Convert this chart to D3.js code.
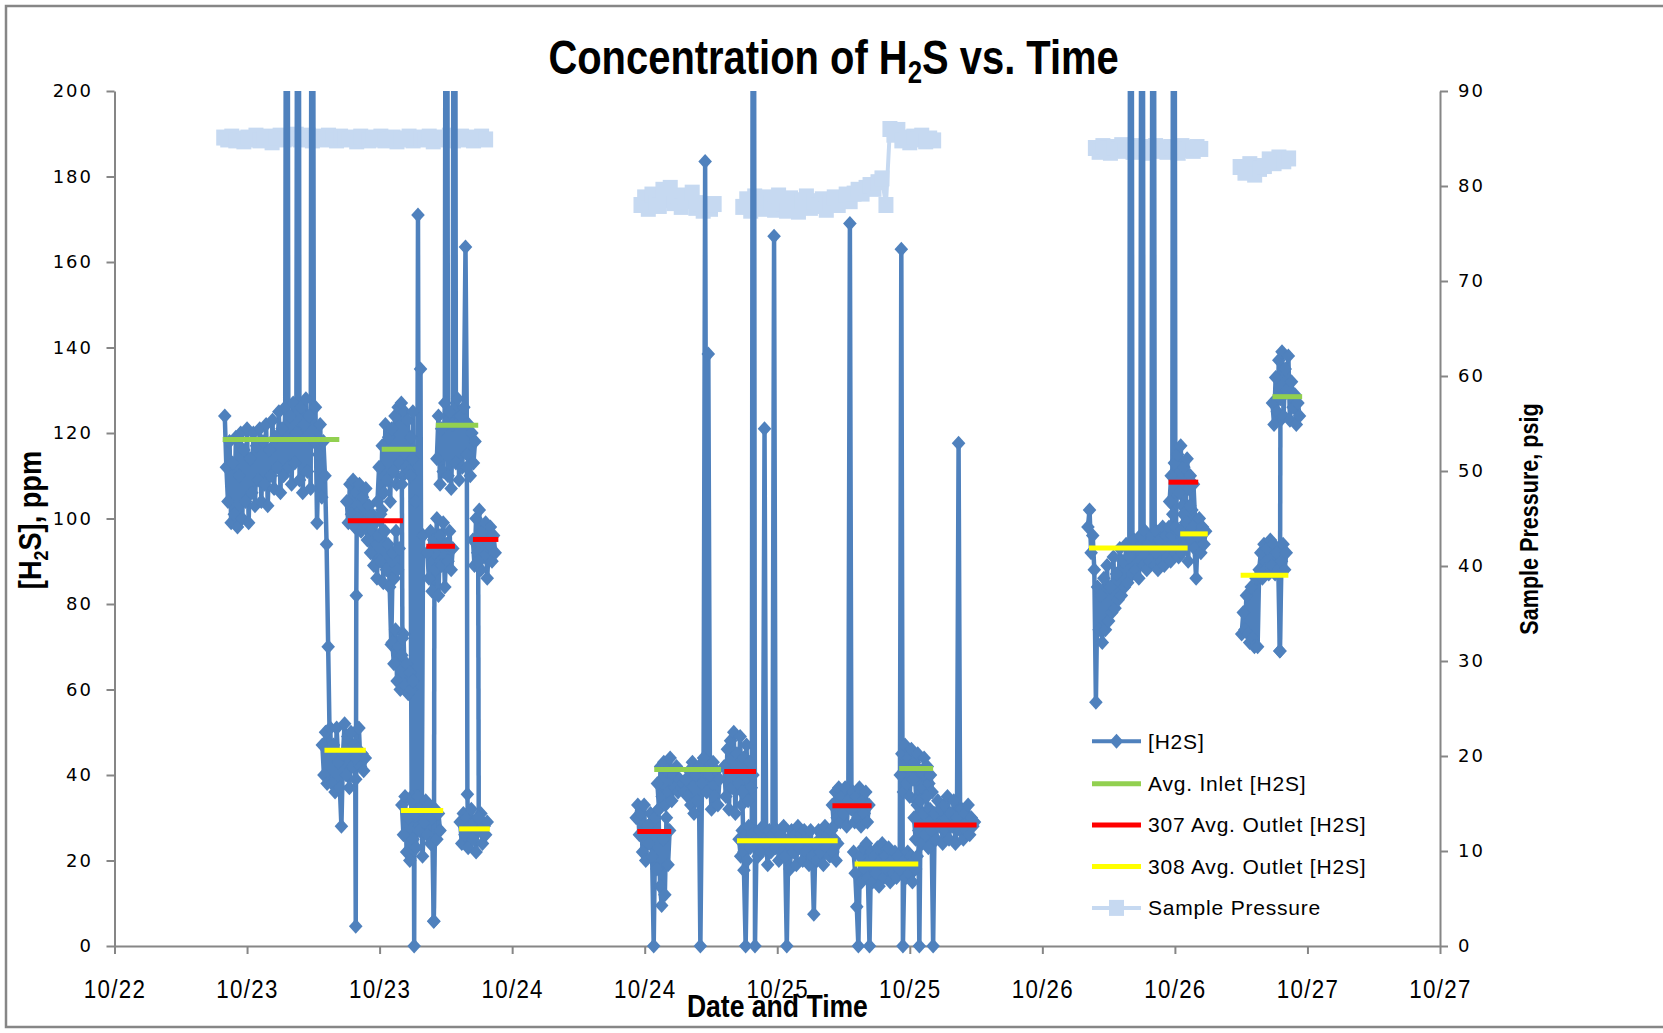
<!DOCTYPE html>
<html>
<head>
<meta charset="utf-8">
<script src="https://cdn.jsdelivr.net/npm/d3@7"></script>
<style>
  body { margin: 0; background: #fff; }
  svg { display: block; }
</style>
</head>
<body>
<div id="chart"></div>
<script>
// times are days after 10/22 00:00, [H2S] in ppm, pressure in psig

// x axis: one tick every 12 hours
const xTickValues = [0.5, 1, 1.5, 2, 2.5, 3, 3.5, 4, 4.5, 5, 5.5];
const xTickLabels = ["10/22", "10/23", "10/23", "10/24", "10/24", "10/25", "10/25", "10/26", "10/26", "10/27", "10/27"];
const h2sTicks = [0, 20, 40, 60, 80, 100, 120, 140, 160, 180, 200];
const pressureTicks = [0, 10, 20, 30, 40, 50, 60, 70, 80, 90];

// [H2S] readings, each run = [first time, sampling step, readings]
const h2sOct23Runs = [
  [0.916, 0.006, [124,112,104,118,99,113,101,119,98,110,120,100,116,104,121,99,114,106,120,103,117,109,121,104,118,108,122,103,116,110,123,107,119,112,125,106,121,110,126,400,112,124,108,127,113,120,400,109,126,106,122,128,111,124,107,400,118,126,99,115,122,105,118,110,94,70,47]],
  [1.284, 0.006, [47,40,50,38,46,51,38,47,36,51,43,37,28,45,52,40,49,37,50,42,47,39,46,51,42,45,41,44]],
  [1.408, 0.002, [44,4.6,82,101]],
  [1.376, 0.006, [104,99,108,101,109,98,106,100,108,97,105,99,107,95,103,92,101,89,99,86,96,90,102,85,97,88,94,84,70.5,92,86,97,88,93]],
  [1.548, 0.006, [71,66,74,62,70,60,68,73,61,66,59,64,60,62]],
  [1.492, 0.006, [104,112,101,117,106,122,109,119,104,121,111,124,108,126,113,127,110,125,112,123,111,119,114]],
  [1.584, 0.002, [108,72]],
  [1.616, 0.0048, [110,35,125,0,104,30,171,28,135,31,96]],
  [1.584, 0.006, [33,26,35,22,30,20,34,25,31,23,35,27,32,21,29,34,26,33,24,30,5.8,32,25,31,27]],
  [1.7048, 0.002, [5.8,92]],
  [1.680, 0.006, [92,86,97,83,95,88,100,82,96,89,99,84,94,90,97,88,93]],
  [1.716, 0.006, [114,124,108,121,111,127,400,110,125,107,122,400,113,128,109,124,112,126,163.5,115,122,110,120,113,118]],
  [1.8292, 0.002, [112,35.5,29]],
  [1.804, 0.006, [29,24,31,26,30,23,28,32,25,29,22,30,27,31,24,28,26,29]],
  [1.852, 0.006, [95,89,100,92,102,88,97,91,99,86,94,98,90,96,92]],
  [1.872, 0.002, [90,30]]
];

const h2sOct24Runs = [
  [2.468, 0.006, [30,33,26,31,22,33,20,28,24,31,21,0,30,18,32,14,9.5,25,12,30,19,27]],
  [2.548, 0.006, [38,32,42,35,43,33,41,36,44,34,40,37,42,36,39,37,38,36,39,35,41,33,43,31,40,34,42,0,38,44,183.5,36,138.5,40,32,43,35,41,33,39]],
  [2.800, 0.006, [42,35,46,32,48,37,50,31,45,38,49,33,44,36,47,34,43,37,40]],
  [2.868, 0.0064, [36,17.7,0,25]],
  [2.856, 0.006, [25,21,27,22,26,20,28,23,26,400,0,25,21,27,22,28,121,24,19,27,22,26,166,23,27,20,26,22,28,21,0,25,18,27,22,26,19,28,23,26,20,27,22,25,19,27,21,7.4,24,20,27,22,26,19,28,23,26,21,27,22,25,20,24]],
  [3.208, 0.006, [33,28,36,30,37,29,35,31,37,28,34,169,32,36,29,35,30,37,28,34,31,36,29,33]],
  [3.288, 0.006, [22,17,9.2,0,21,15,23,18,24,16,0,22,15,21,17,23,14,20,24,16,21,18,23,15,20,17,22,16,21,18,163,0,20,16,22,17,21,15,20,18,21]],
  [3.464, 0.006, [40,45,36,47,38,44,35,46,39,43,34,45,0,41,37,44,35,42,38,40,36]],
  [3.516, 0.006, [30,25,33,27,34,24,31,26,35,23,32,27,0,31,25,34,28,32,24,33,27,35,25,31,28,34,24,30,117.6,27,32,25,31,27,33,26,30,28,29]]
];

const h2sOct26Runs = [
  [4.172, 0.006, [98,102,92,96,88,57,84,74,82,71,86,74,89,76,84,78,91,79,87,81,93,82,90,84,94,85,91,400,87,95,88,93,86,96,400,89,97,88,94,90,96,400,89,97,88,95,90,98,89,96,91,98,90,96,400,92,97,91]],
  [4.480, 0.006, [104,110,101,113,98,115,106,117,103,112,99,114,107,110,102,108,100]],
  [4.520, 0.006, [97,92,101,94,99,90,103,95,98,93,86,96,100,92,98,94,97]]
];

const h2sOct26LateRuns = [
  [4.752, 0.006, [73,78,74,82,73,71,84,72,70,86,70,88,92,86,94,88,93,87,95,89,94,87,92,88,69,90,94,88,92]],
  [4.896, 0.002, [69,123]],
  [4.868, 0.006, [127,122,133,125,137,128,139,124,135,130,138,123,132,126,129,122,127,124]]
];

// sample pressure, psig
const pressureRuns = [
  [0.912, 0.0152, [85.1,84.9,85.2,84.8,85.0,84.7,85.1,84.9,85.3,84.8,85.0,85.2,84.6,85.1,85.3,84.9,85.2,85.0,85.4,84.9,85.1,85.3,84.8,85.0,85.2,84.9,85.3,85.1,84.8,85.2,85.0,84.9,85.1,84.7,85.2,85.0,84.8,85.1,84.9,85.2,84.8,84.9,85.1,84.7,85.0,84.9,85.2,84.8,85.1,85.0,84.9,85.2,84.7,85.0,85.1,84.9,85.3,84.8,85.0,85.2,84.9,85.1,84.8,85.0,85.2,84.9]],
  [2.486, 0.0138, [78.0,78.8,77.6,79.1,78.3,77.9,79.6,78.5,79.8,78.2,79.0,77.8,78.9,78.4,79.3,77.7,78.2,77.4,78.0,77.6,78.1]],
  [2.870, 0.015, [77.8,78.6,77.4,78.9,78.1,77.6,78.8,78.3,77.5,79.0,78.2,77.4,78.7,78.0,77.3,78.5,78.9,77.7,78.4,77.9,78.6,77.5,78.3,78.8,78.0,78.7,79.1,78.4,79.2,79.6,79.2,79.8,80.1,79.7,80.4,80.8,78.0,86.0,85.4,85.9,84.8,85.1,84.6,85.2,84.9,85.3,84.7,85.0,84.8]],
  [4.200, 0.0142, [84.0,83.6,84.2,83.9,83.5,84.1,83.8,84.3,83.7,84.0,83.6,84.2,83.9,84.1,83.5,83.8,84.2,83.7,84.0,83.6,84.1,83.9,83.5,84.2,83.8,84.0,83.7,84.1,83.9]],
  [4.746, 0.0183, [82.0,81.4,82.3,81.2,81.8,82.1,82.8,82.4,83.0,82.6,82.9]]
];

// averages: [from, to, ppm]
const inletAvg = [[0.908,1.348,118.5],[1.508,1.636,116.2],[1.712,1.872,121.8],[2.536,2.788,41.3],[3.460,3.588,41.5],[4.868,4.980,128.5]];
const outlet307Avg = [[1.380,1.588,99.5],[1.676,1.784,93.5],[1.852,1.948,95.1],[2.472,2.600,26.8],[2.800,2.920,40.8],[3.208,3.356,32.8],[3.516,3.752,28.3],[4.476,4.588,108.5]];
const outlet308Avg = [[1.292,1.448,45.8],[1.580,1.740,31.7],[1.800,1.916,27.4],[2.848,3.228,24.6],[3.292,3.532,19.2],[4.176,4.548,93.1],[4.520,4.624,96.4],[4.748,4.928,86.7]];

const legendLabels = ["[H2S]", "Avg. Inlet [H2S]", "307 Avg. Outlet [H2S]", "308 Avg. Outlet [H2S]", "Sample Pressure"];

const h2sColor = "#4F81BD", pressureColor = "#C6D9F1";
const inletColor = "#92D050", c307 = "#FF0000", c308 = "#FFFF00";
const axisColor = "#868686";

const width = 1663, height = 1033;
const plot = {left: 114.5, right: 1440, top: 91, bottom: 946};
const sans = "'Liberation Sans', Arial, sans-serif";

const svg = d3.select("#chart").append("svg")
    .attr("width", width)
    .attr("height", height);

svg.append("rect").attr("width", width).attr("height", height).attr("fill", "#fff");
svg.append("rect")
    .attr("x", 6).attr("y", 6).attr("width", 1700).attr("height", 1021)
    .attr("fill", "none").attr("stroke", axisColor).attr("stroke-width", 2.5);

let x = d3.scaleLinear().domain([0.5, 5.5]).range([plot.left, plot.right]);
let yL = d3.scaleLinear().domain([0, 200]).range([plot.bottom, plot.top]);
let yR = d3.scaleLinear().domain([0, 90]).range([plot.bottom, plot.top]);

svg.append("clipPath").attr("id", "plotClip")
  .append("rect")
    .attr("x", plot.left - 12).attr("y", plot.top)
    .attr("width", plot.right - plot.left + 24).attr("height", plot.bottom - plot.top + 14);

// axes
function styleAxis(g) {
    g.select(".domain").attr("stroke", axisColor).attr("stroke-width", 2);
    g.selectAll(".tick line").attr("stroke", axisColor).attr("stroke-width", 2);
    g.selectAll(".tick text").attr("fill", "#000");
}

// condensed look: squeeze the glyphs horizontally
svg.append("g")
    .attr("transform", "translate(0," + plot.bottom + ")")
    .call(d3.axisBottom(x).tickValues(xTickValues).tickFormat((d, i) => xTickLabels[i]).tickSize(8).tickSizeOuter(0))
    .call(styleAxis)
    .call(g => g.selectAll(".tick text")
        .attr("y", 52).attr("dy", 0)
        .attr("transform", "scale(0.86,1)")
        .style("font-family", sans).style("font-size", "26px").style("letter-spacing", "1.5px"));

svg.append("g")
    .attr("transform", "translate(" + plot.left + ",0)")
    .call(d3.axisLeft(yL).tickValues(h2sTicks).tickSize(8).tickSizeOuter(0))
    .call(styleAxis)
    .call(g => g.selectAll(".tick text")
        .attr("x", -21.5)
        .style("font-family", "'DejaVu Sans', sans-serif").style("font-size", "18px").style("letter-spacing", "2px"));

svg.append("g")
    .attr("transform", "translate(" + plot.right + ",0)")
    .call(d3.axisRight(yR).tickValues(pressureTicks).tickSize(8).tickSizeOuter(0))
    .call(styleAxis)
    .call(g => g.selectAll(".tick text")
        .attr("x", 18)
        .style("font-family", "'DejaVu Sans', sans-serif").style("font-size", "18px").style("letter-spacing", "2px"));

// titles
const title = svg.append("text")
    .attr("transform", "translate(833.6,74) scale(0.832,1)").attr("text-anchor", "middle")
    .style("font-family", sans).style("font-weight", "bold").style("font-size", "48px");
title.append("tspan").text("Concentration of H");
title.append("tspan").attr("dy", 9).style("font-size", "31px").text("2");
title.append("tspan").attr("dy", -9).text("S vs. Time");

const yTitle = svg.append("text")
    .attr("transform", "translate(41,520) rotate(-90) scale(0.85,1)").attr("text-anchor", "middle")
    .style("font-family", sans).style("font-weight", "bold").style("font-size", "32px");
yTitle.append("tspan").text("[H");
yTitle.append("tspan").attr("dy", 7).style("font-size", "21px").text("2");
yTitle.append("tspan").attr("dy", -7).text("S], ppm");

svg.append("text")
    .attr("transform", "translate(1538,519) rotate(-90) scale(0.83,1)").attr("text-anchor", "middle")
    .style("font-family", sans).style("font-weight", "bold").style("font-size", "26px")
    .text("Sample Pressure, psig");

svg.append("text")
    .attr("transform", "translate(777.4,1017) scale(0.83,1)").attr("text-anchor", "middle")
    .style("font-family", sans).style("font-weight", "bold").style("font-size", "32px")
    .text("Date and Time");

// data
function expand(run) {
    const [t0, dt, vals] = run;
    return vals.map((v, i) => ({t: t0 + i * dt, v: v}));
}

const diamond = "M0,-7.5L6.8,0L0,7.5L-6.8,0Z";
const graph = svg.append("g").attr("clip-path", "url(#plotClip)");

// sample pressure (secondary axis)
const pLine = d3.line().x(d => x(d.t)).y(d => yR(d.v));
pressureRuns.map(expand).forEach(pts => {
    graph.append("path").datum(pts)
        .attr("d", pLine).attr("fill", "none")
        .attr("stroke", pressureColor).attr("stroke-width", 4).attr("stroke-linejoin", "round");
    graph.append("g").selectAll("rect").data(pts).join("rect")
        .attr("x", d => x(d.t) - 7.5).attr("y", d => yR(d.v) - 8)
        .attr("width", 15).attr("height", 16)
        .attr("fill", pressureColor);
});

// [H2S]
const hLine = d3.line().x(d => x(d.t)).y(d => yL(d.v));
const h2sPoints = [].concat(h2sOct23Runs, h2sOct24Runs, h2sOct26Runs, h2sOct26LateRuns).map(expand);
h2sPoints.forEach(pts => {
    graph.append("path").datum(pts)
        .attr("d", hLine).attr("fill", "none")
        .attr("stroke", h2sColor).attr("stroke-width", 4.5).attr("stroke-linejoin", "round");
});
h2sPoints.forEach(pts => {
    graph.append("g").selectAll("path").data(pts).join("path")
        .attr("d", diamond)
        .attr("transform", d => "translate(" + x(d.t) + "," + yL(d.v) + ")")
        .attr("fill", h2sColor);
});

// averages
[[inletAvg, inletColor], [outlet307Avg, c307], [outlet308Avg, c308]].forEach(([segs, col]) => {
    graph.append("g").selectAll("line").data(segs).join("line")
        .attr("x1", d => x(d[0])).attr("x2", d => x(d[1]))
        .attr("y1", d => yL(d[2])).attr("y2", d => yL(d[2]))
        .attr("stroke", col).attr("stroke-width", 5);
});

// legend
const legendRows = [741.3, 783.8, 825.1, 866.5, 907.9];
const legendColors = [h2sColor, inletColor, c307, c308, pressureColor];
const legend = svg.append("g");
legendLabels.forEach((label, i) => {
    const yy = legendRows[i];
    legend.append("line")
        .attr("x1", 1092).attr("x2", 1141).attr("y1", yy).attr("y2", yy)
        .attr("stroke", legendColors[i]).attr("stroke-width", i === 0 || i === 4 ? 4 : 5);
    if (i === 0) {
        legend.append("path").attr("d", diamond)
            .attr("transform", "translate(1116.5," + yy + ")").attr("fill", h2sColor);
    }
    if (i === 4) {
        legend.append("rect").attr("x", 1109).attr("y", yy - 8).attr("width", 15).attr("height", 16)
            .attr("fill", pressureColor);
    }
    legend.append("text")
        .attr("x", 1148).attr("y", yy).attr("dy", "0.35em")
        .style("font-family", sans).style("font-size", "21px")
        .style("letter-spacing", "0.8px")
        .text(label);
});
</script>
</body>
</html>
